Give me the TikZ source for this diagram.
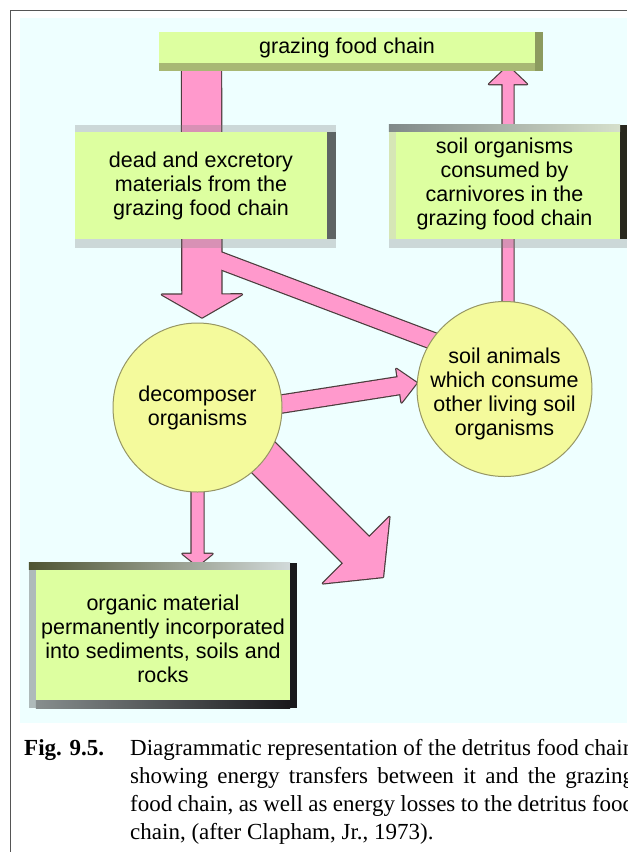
\documentclass[tikz,border=0pt]{standalone}
\usepackage{fontspec}
\setmainfont{Liberation Sans}
\newfontfamily\capfont{Liberation Serif}
\usetikzlibrary{calc}
\pgfdeclarelayer{bglayer}
\pgfdeclarelayer{arrowlayer}
\pgfsetlayers{bglayer,arrowlayer,main}
\definecolor{bgcyan}{RGB}{238,255,255}
\definecolor{boxgreen}{RGB}{221,255,160}
\definecolor{circyellow}{RGB}{244,250,156}
\definecolor{circedge}{RGB}{150,150,100}
\definecolor{pinkarrow}{RGB}{255,153,204}
\definecolor{arrowedge}{RGB}{75,60,60}
\definecolor{framegray}{RGB}{85,85,85}
\definecolor{olivestrip}{RGB}{168,184,116}
\definecolor{olivedark}{RGB}{140,155,95}
\definecolor{slatestrip}{RGB}{94,100,100}
\definecolor{nearblack}{RGB}{40,40,30}
\definecolor{greystripA}{RGB}{128,137,137}
\definecolor{greystripB}{RGB}{214,224,204}
\definecolor{paleleft}{RGB}{214,230,182}
\definecolor{olivedk}{RGB}{78,84,50}
\definecolor{palegrey}{RGB}{210,218,218}
\definecolor{sidegrey}{RGB}{174,186,186}
\definecolor{midgrey}{RGB}{135,142,142}
\definecolor{inkdark}{RGB}{25,25,28}

\newcommand\blockarrow[6]{%
  \coordinate (baH) at ($(#3)!#6!(#2)$);
  \path[#1] ($(#2)!#4!90:(#3)$) -- ($(baH)!#4!-90:(#2)$) -- ($(baH)!#5!-90:(#2)$) -- (#3) -- ($(baH)!#5!90:(#2)$) -- ($(baH)!#4!90:(#2)$) -- ($(#2)!#4!-90:(#3)$) -- cycle;
}
\newcommand\blockband[4]{%
  \path[#1] ($(#2)!#4!90:(#3)$) -- ($(#3)!#4!-90:(#2)$) -- ($(#3)!#4!90:(#2)$) -- ($(#2)!#4!-90:(#3)$) -- cycle;
}
\newcommand\allarrows[1]{%
  \blockband{#1}{cP}{cQ}{8pt}
  \blockarrow{#1}{aP}{aQ}{19.5pt}{40pt}{23pt}
  \blockarrow{#1}{bP}{bQ}{5.5pt}{19pt}{18pt}
  \blockarrow{#1}{dP}{dQ}{8.5pt}{17pt}{18pt}
  \blockarrow{#1}{eP}{eQ}{18.5pt}{47pt}{38pt}
  \blockarrow{#1}{fP}{fQ}{6pt}{15pt}{12pt}
}

\begin{document}
\begin{tikzpicture}[x=1pt,y=-1pt,
  boxnode/.style={rectangle, fill=boxgreen, inner sep=0pt, draw=none},
  circnode/.style={circle, fill=circyellow, draw=circedge, line width=1pt, inner sep=0pt},
  txt/.style={align=center, inner sep=0pt, font=\fontsize{21.5}{24}\selectfont},
  capnode/.style={inner sep=0pt, anchor=base west, font=\capfont\fontsize{23}{28}\selectfont},
  arrowline/.style={draw=arrowedge, line width=2.4pt, line join=round},
  arrowfill/.style={fill=pinkarrow},
  graystrip/.style={fill=gray, fill opacity=0.3}]
\useasboundingbox (0,0) rectangle (627,852);

% nodes
\node[boxnode, minimum width=376pt, minimum height=31pt] (graz) at (347,47.5) {};
\node[boxnode, minimum width=252pt, minimum height=107pt] (dead) at (201,185.5) {};
\node[boxnode, minimum width=231pt, minimum height=107pt] (soil) at (504.5,185.5) {};
\node[boxnode, minimum width=254pt, minimum height=130pt] (org) at (163,635) {};
\node[circnode, minimum size=169pt] (dc) at (197.5,407.5) {};
\node[circnode, minimum size=175pt] (sa) at (504.5,389) {};

% box edge strips
\fill[olivestrip] (graz.south west) rectangle ($(graz.south east)+(8,8)$);
\fill[olivedark] (graz.north east) rectangle ($(graz.south east)+(8,8)$);

\fill[slatestrip] (dead.north east) rectangle ($(dead.south east)+(9,0)$);
\fill[graystrip] ($(dead.north west)+(0,-7)$) rectangle ($(dead.north east)+(9,0)$);
\fill[graystrip] (dead.south west) rectangle ($(dead.south east)+(9,9)$);

\fill[nearblack] ($(soil.north east)+(0,-7)$) rectangle ($(soil.south east)+(7,0)$);
\shade[left color=greystripA, right color=greystripB] ($(soil.north west)+(0,-7)$) rectangle (soil.north east);
\fill[paleleft] (soil.north west) rectangle ($(soil.south west)+(7,0)$);
\fill[graystrip] (soil.south west) rectangle ($(soil.south east)+(7,9)$);

\shade[left color=olivedk, right color=palegrey] ($(org.north west)+(-7,-7)$) rectangle (org.north east);
\fill[sidegrey] ($(org.north west)+(-7,0)$) rectangle ($(org.south west)+(0,8)$);
\fill[inkdark] ($(org.north east)+(0,-7)$) rectangle ($(org.south east)+(7,8)$);
\shade[left color=midgrey, right color=inkdark] (org.south west) rectangle ($(org.south east)+(0,8)$);

% texts
\node[txt] (grazt) at (347,47.5) {grazing food chain};
\node[txt] (deadt) at (201,185.5) {dead and excretory\\materials from the\\grazing food chain};
\node[txt] (soilt) at (504.5,183.5) {soil organisms\\consumed by\\carnivores in the\\grazing food chain};
\node[txt] (dct) at (197.5,407.5) {decomposer\\organisms};
\node[txt] (sat) at (504.5,393.5) {soil animals\\which consume\\other living soil\\organisms};
\node[txt] (orgt) at (163,639) {organic material\\permanently incorporated\\into sediments, soils and\\rocks};

% connector end points
\coordinate (aP) at ($(graz.south)+(-145.5,0)$);
\coordinate (aQ) at ($(dc.north)+(4.5,-5)$);
\coordinate (bP) at ($(sa.north)+(3.5,4)$);
\coordinate (bQ) at ($(graz.south)+(161,3)$);
\coordinate (cP) at ($(dead.south)+(13,19)$);
\coordinate (cQ) at ($(sa.center)+(-66,-46)$);
\coordinate (dP) at ($(dc.east)+(-4,-3)$);
\coordinate (dQ) at (sa.176);
\coordinate (eP) at ($(dc.center)+(57,41)$);
\coordinate (eQ) at ($(dc.center)+(185.5,169.5)$);
\coordinate (fP) at ($(dc.south)+(0,-6)$);
\coordinate (fQ) at ($(org.north)+(34.5,-4)$);

\begin{pgfonlayer}{arrowlayer}
  \allarrows{arrowline}
  \allarrows{arrowfill}
\end{pgfonlayer}

\begin{pgfonlayer}{bglayer}
  \fill[white] (0,0) rectangle (627,852);
  \fill[bgcyan] (20,18) rectangle (627,723);
  \draw[framegray, line width=1.5pt] (10.5,852) -- (10.5,10.5) -- (627,10.5);
\end{pgfonlayer}

% caption
\node[capnode] (figlbl) at (24,755) {\bfseries Fig. 9.5.};
\node[capnode] (cap1) at (130,755) {\makebox[504pt][s]{Diagrammatic representation of the detritus food chain}};
\node[capnode] (cap2) at (130,783) {\makebox[504pt][s]{showing energy transfers between it and the grazing}};
\node[capnode] (cap3) at (130,811) {\makebox[504pt][s]{food chain, as well as energy losses to the detritus food}};
\node[capnode] (cap4) at (130,839) {chain, (after Clapham, Jr., 1973).};
\end{tikzpicture}
\end{document}
